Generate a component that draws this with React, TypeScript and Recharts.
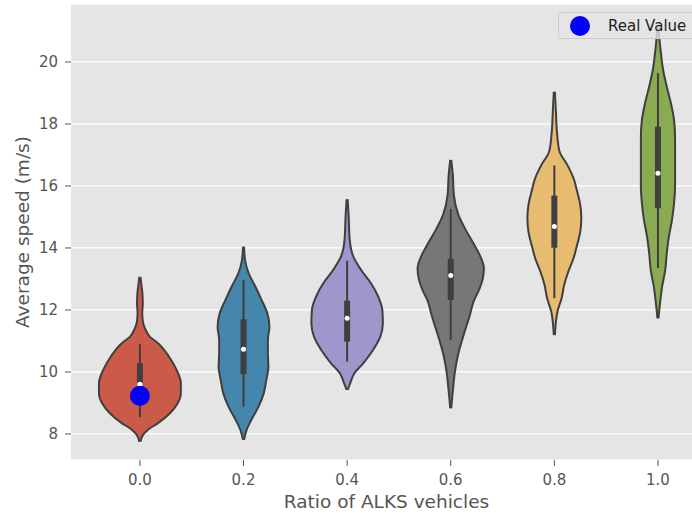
import {
  ComposedChart,
  Area,
  XAxis,
  YAxis,
  CartesianGrid,
  ReferenceLine,
  ReferenceDot,
} from 'recharts';

// Violin plot: average speed vs ratio of ALKS vehicles

const ratios = [0, 0.2, 0.4, 0.6, 0.8, 1.0];
const speedTicks = [8, 10, 12, 14, 16, 18, 20];
const violinColors = ['#cc5a49', '#4586ac', '#9e97cc', '#777777', '#e7bc71', '#8aab51'];

// violin outlines: speed (m/s) and half width (ratio units)
const speeds00 = [7.75, 7.97, 8.13, 8.35, 8.67, 8.99, 9.31, 9.64, 10.06, 10.5, 10.93, 11.14, 11.4, 11.6, 11.9, 12.2, 12.5, 12.8, 13.07];
const widths00 = [0.001, 0.006, 0.015, 0.035, 0.058, 0.073, 0.079, 0.079, 0.071, 0.056, 0.035, 0.019, 0.01, 0.006, 0.0045, 0.0055, 0.005, 0.003, 0.001];

const speeds02 = [7.81, 8.13, 8.45, 8.88, 9.31, 9.74, 10.17, 10.6, 11.03, 11.46, 11.89, 12.32, 12.75, 13.18, 13.61, 14.04];
const widths02 = [0.001, 0.006, 0.015, 0.029, 0.039, 0.044, 0.048, 0.047, 0.047, 0.05, 0.046, 0.035, 0.023, 0.01, 0.003, 0.001];

const speeds04 = [9.42, 9.64, 9.96, 10.28, 10.71, 11.14, 11.57, 12.0, 12.43, 12.86, 13.29, 13.72, 14.26, 15.01, 15.57];
const widths04 = [0.001, 0.006, 0.014, 0.031, 0.05, 0.064, 0.069, 0.068, 0.06, 0.046, 0.027, 0.012, 0.005, 0.003, 0.001];

const speeds06 = [8.83, 9.47, 10.0, 10.55, 10.98, 11.41, 11.84, 12.27, 12.7, 13.02, 13.35, 13.77, 14.2, 14.64, 15.06, 15.71, 16.35, 16.84];
const widths06 = [0.001, 0.0045, 0.008, 0.014, 0.021, 0.029, 0.037, 0.044, 0.056, 0.062, 0.064, 0.056, 0.042, 0.027, 0.015, 0.006, 0.004, 0.001];

const speeds08 = [11.19, 11.95, 12.38, 12.81, 13.24, 13.67, 14.1, 14.53, 14.96, 15.39, 15.82, 16.25, 16.68, 17.11, 17.75, 18.4, 19.04];
const widths08 = [0.001, 0.006, 0.014, 0.019, 0.027, 0.037, 0.044, 0.05, 0.052, 0.05, 0.044, 0.037, 0.025, 0.01, 0.005, 0.003, 0.001];

const speeds10 = [11.73, 12.22, 12.75, 13.29, 13.83, 14.36, 14.9, 15.44, 15.98, 16.52, 17.05, 17.59, 18.13, 18.67, 19.2, 19.74, 20.39, 21.1];
const widths10 = [0.001, 0.004, 0.008, 0.014, 0.017, 0.021, 0.027, 0.031, 0.033, 0.033, 0.033, 0.033, 0.031, 0.025, 0.017, 0.01, 0.005, 0.001];

const outlineSpeeds = [speeds00, speeds02, speeds04, speeds06, speeds08, speeds10];
const outlineWidths = [widths00, widths02, widths04, widths06, widths08, widths10];

// inner box plot
const whiskerLow = [8.54, 8.88, 10.33, 11.03, 12.38, 13.35];
const whiskerHigh = [10.9, 12.97, 13.59, 15.26, 16.66, 19.64];
const q1 = [9.64, 9.93, 10.98, 12.32, 14.01, 15.28];
const q3 = [10.28, 11.7, 12.3, 13.65, 15.69, 17.91];
const medians = [9.6, 10.73, 11.73, 13.11, 14.69, 16.41];

const realValueRatio = 0;
const realValueSpeed = 9.23;

const LINE_COLOR = '#3f3f3f';
const TEXT_GRAY = '#555555';
const FONT = '"DejaVu Sans", sans-serif';

// rows of one violin: speed level with its [left, right] range
function violinRows(i: number) {
  return outlineSpeeds[i].map((s, j) => ({
    speed: s,
    range: [ratios[i] - outlineWidths[i][j], ratios[i] + outlineWidths[i][j]],
  }));
}

function XLabel({ viewBox }: any) {
  if (!viewBox) return null;
  return (
    <text
      x={viewBox.x + viewBox.width / 2}
      y={viewBox.y + 48}
      textAnchor="middle"
      fill={TEXT_GRAY}
      fontSize={18.5}
      fontFamily={FONT}
    >
      Ratio of ALKS vehicles
    </text>
  );
}

function YLabel({ viewBox }: any) {
  if (!viewBox) return null;
  const x = viewBox.x + 22;
  const y = viewBox.y + viewBox.height / 2;
  return (
    <text
      x={x}
      y={y}
      dy="0.36em"
      transform={`rotate(-90 ${x} ${y})`}
      textAnchor="middle"
      fill={TEXT_GRAY}
      fontSize={18.5}
      fontFamily={FONT}
    >
      Average speed (m/s)
    </text>
  );
}

export default function App() {
  return (
    <div
      style={{
        position: 'absolute',
        left: 0,
        top: 0,
        width: 692,
        height: 513,
        overflow: 'hidden',
        background: '#ffffff',
        fontFamily: FONT,
      }}
    >
      <ComposedChart
        layout="vertical"
        width={710}
        height={513}
        margin={{ top: 4, right: 8, bottom: 0, left: 0 }}
      >
        <CartesianGrid vertical={false} stroke="#ffffff" strokeWidth={1.2} fill="#e5e5e5" />
        <XAxis
          type="number"
          domain={[-0.133, 1.085]}
          ticks={ratios}
          allowDataOverflow
          tickFormatter={(v: number) => v.toFixed(1)}
          height={53}
          axisLine={false}
          tickSize={6}
          tickMargin={8}
          tick={{ fill: TEXT_GRAY, fontSize: 15, fontFamily: FONT }}
          tickLine={{ stroke: TEXT_GRAY }}
          label={<XLabel />}
        />
        <YAxis
          type="number"
          dataKey="speed"
          reversed
          domain={[7.16, 21.87]}
          ticks={speedTicks}
          allowDataOverflow
          width={71}
          axisLine={false}
          tickSize={6}
          tickMargin={7}
          tick={{ fill: TEXT_GRAY, fontSize: 15, fontFamily: FONT }}
          tickLine={{ stroke: TEXT_GRAY }}
          label={<YLabel />}
        />
        {ratios.map((r, i) => (
          <Area
            key={`violin-${r}`}
            data={violinRows(i)}
            dataKey="range"
            type="monotone"
            stroke={LINE_COLOR}
            strokeWidth={2}
            fill={violinColors[i]}
            fillOpacity={1}
            dot={false}
            activeDot={false}
            isAnimationActive={false}
          />
        ))}
        {ratios.map((r, i) => (
          <ReferenceLine
            key={`whisker-${r}`}
            segment={[
              { x: r, y: whiskerLow[i] },
              { x: r, y: whiskerHigh[i] },
            ]}
            stroke={LINE_COLOR}
            strokeWidth={2}
          />
        ))}
        {ratios.map((r, i) => (
          <ReferenceLine
            key={`box-${r}`}
            segment={[
              { x: r, y: q1[i] },
              { x: r, y: q3[i] },
            ]}
            stroke={LINE_COLOR}
            strokeWidth={6}
          />
        ))}
        {ratios.map((r, i) => (
          <ReferenceDot
            key={`median-${r}`}
            x={r}
            y={medians[i]}
            r={2.5}
            fill="#ffffff"
            stroke="none"
          />
        ))}
        <ReferenceDot x={realValueRatio} y={realValueSpeed} r={10} fill="#0000ff" stroke="none" />
      </ComposedChart>

      {/* legend */}
      <div
        style={{
          position: 'absolute',
          left: 558,
          top: 12,
          width: 150,
          height: 27,
          boxSizing: 'border-box',
          background: 'rgba(229,229,229,0.8)',
          border: '1px solid #cccccc',
          borderRadius: 3,
          display: 'flex',
          alignItems: 'center',
        }}
      >
        <svg width={20} height={20} style={{ marginLeft: 11 }}>
          <circle cx={10} cy={10} r={10} fill="#0000ff" />
        </svg>
        <span style={{ marginLeft: 18, fontSize: 15, color: '#222222', fontFamily: FONT }}>Real Value</span>
      </div>
    </div>
  );
}
